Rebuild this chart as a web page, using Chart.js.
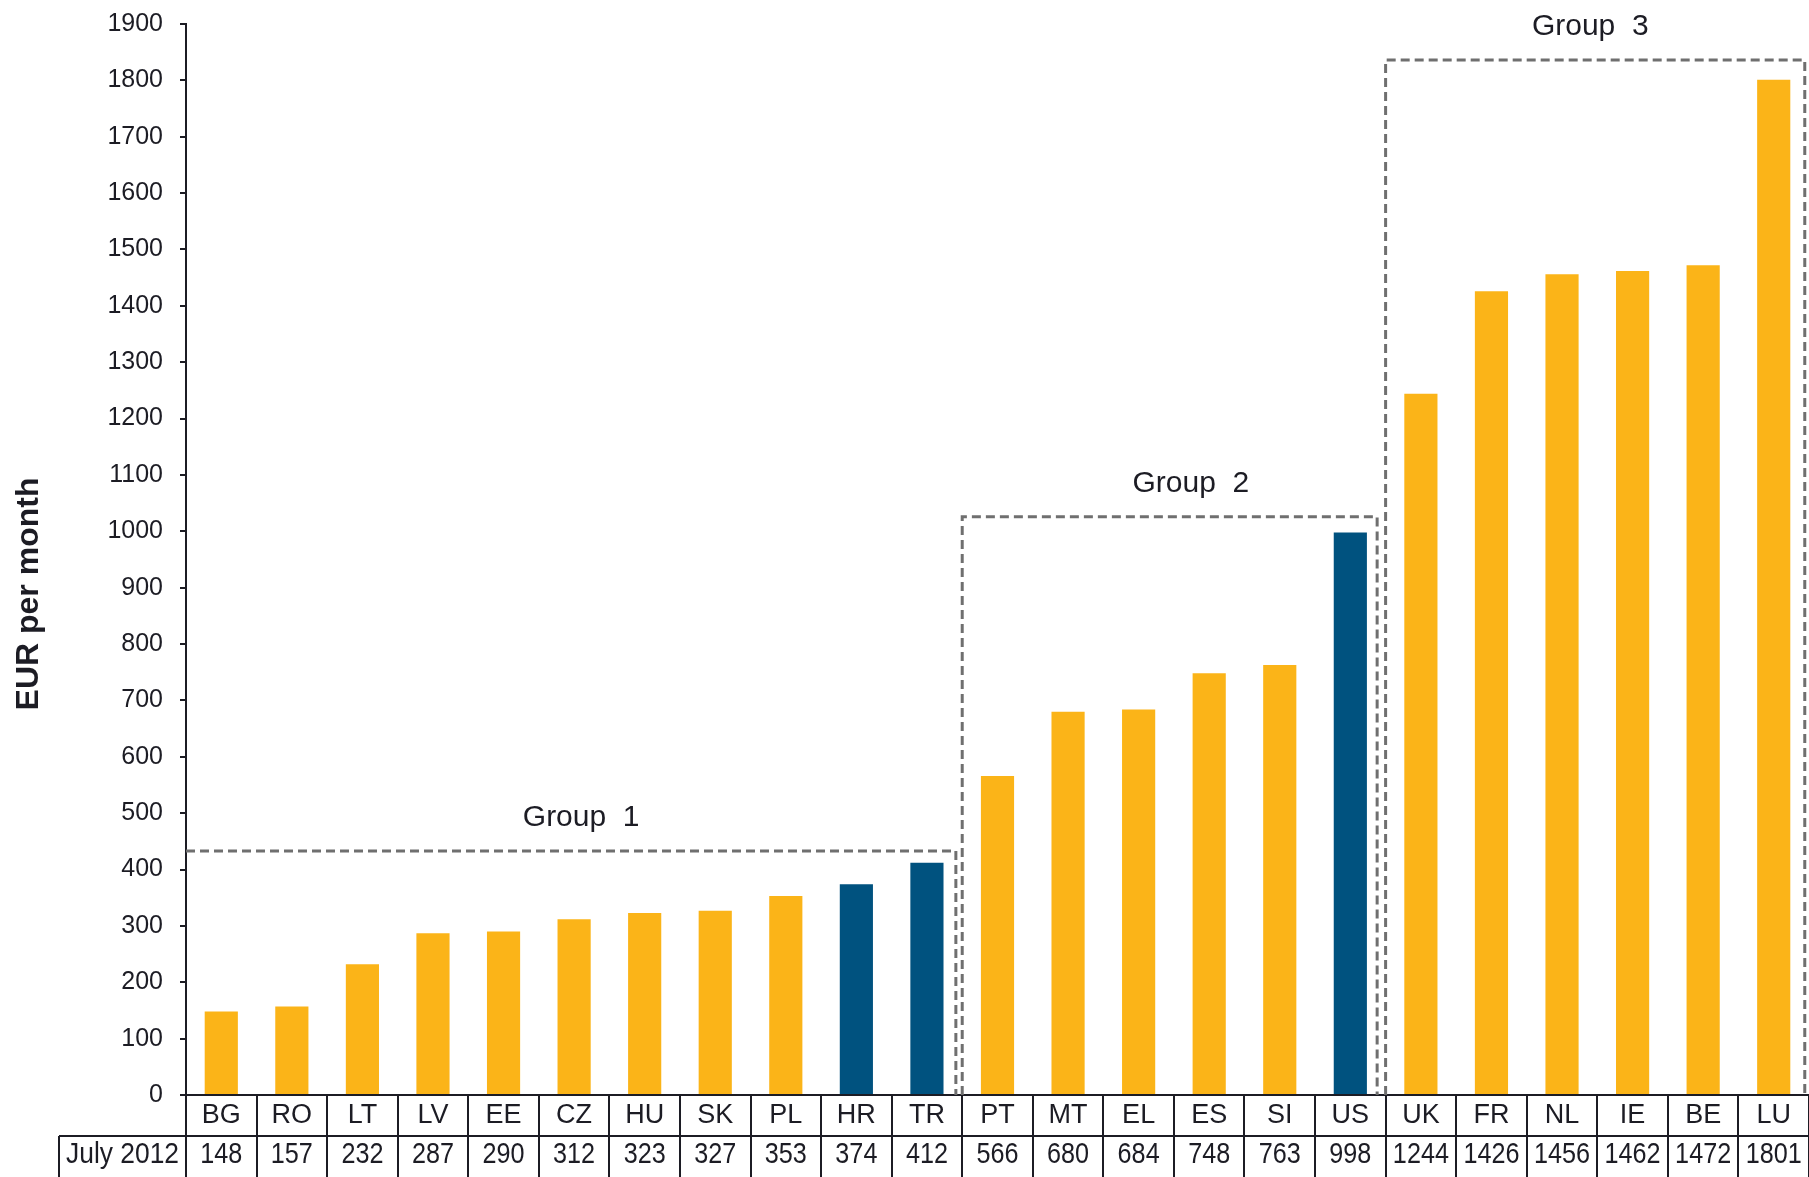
<!DOCTYPE html>
<html>
<head>
<meta charset="utf-8">
<script src="https://cdn.jsdelivr.net/npm/chart.js@4/dist/chart.umd.min.js"></script>
<style>
  html, body { margin: 0; padding: 0; background: #fff; }
  canvas { display: block; }
</style>
</head>
<body>
<canvas id="wageChart" width="1809" height="1177"></canvas>
<script>
// Minimum wages, EUR per month
const countries = ['BG', 'RO', 'LT', 'LV', 'EE', 'CZ', 'HU', 'SK', 'PL', 'HR', 'TR',
    'PT', 'MT', 'EL', 'ES', 'SI', 'US', 'UK', 'FR', 'NL', 'IE', 'BE', 'LU'];
const july2012 = [148, 157, 232, 287, 290, 312, 323, 327, 353, 374, 412,
    566, 680, 684, 748, 763, 998, 1244, 1426, 1456, 1462, 1472, 1801];
const highlighted = ['HR', 'TR', 'US'];
const rowLabel = 'July 2012';
const groupNames = ['Group  1', 'Group  2', 'Group  3'];

const ORANGE = '#FBB418';
const BLUE = '#00527F';
const INK = '#1c1c24';
const FONT = "'Liberation Sans', Arial, sans-serif";

// dashed group frames, in category index / value units
const groupFrames = [
    { left: null, right: 10.41, top: 433, labelAt: 5.1 },
    { left: 10.5, right: 16.38, top: 1026, labelAt: 13.74 },
    { left: 16.5, right: 22.44, top: 1836, labelAt: 19.4 }
];

const TABLE_H = 82;

const tablePlugin = {
    id: 'tablePlugin',
    afterDraw(chart) {
        const ctx = chart.ctx;
        const x = chart.scales.x;
        const y = chart.scales.y;
        const area = chart.chartArea;
        const rowTop = area.bottom;
        const rowMid = rowTop + 41;

        ctx.save();

        // data table lines below the axis
        ctx.strokeStyle = INK;
        ctx.lineWidth = 2;
        ctx.beginPath();
        ctx.moveTo(59, rowMid);
        ctx.lineTo(area.right, rowMid);
        ctx.moveTo(59, rowMid);
        ctx.lineTo(59, chart.height);
        ctx.stroke();

        ctx.fillStyle = INK;
        ctx.textAlign = 'center';
        ctx.textBaseline = 'middle';

        // country codes
        ctx.font = '27px ' + FONT;
        countries.forEach((c, i) => {
            ctx.fillText(c, x.getPixelForValue(i), rowTop + 21);
        });

        // values row, slightly condensed like the original table font
        ctx.font = '30px ' + FONT;
        const drawNarrow = (txt, cx, cy, k) => {
            ctx.save();
            ctx.translate(cx, cy);
            ctx.scale(k, 1);
            ctx.fillText(txt, 0, 0);
            ctx.restore();
        };
        july2012.forEach((v, i) => {
            drawNarrow(String(v), x.getPixelForValue(i), rowMid + 19, 0.84);
        });
        drawNarrow(rowLabel, (59 + area.left) / 2, rowMid + 19, 0.88);

        // dashed group frames
        ctx.strokeStyle = '#6f6f6f';
        ctx.lineWidth = 3;
        ctx.setLineDash([9, 5]);
        groupFrames.forEach(g => {
            const top = y.getPixelForValue(g.top);
            const r = x.getPixelForValue(g.right);
            ctx.beginPath();
            if (g.left === null) {
                ctx.moveTo(area.left, top);
            } else {
                const l = x.getPixelForValue(g.left);
                ctx.moveTo(l, area.bottom);
                ctx.lineTo(l, top);
            }
            ctx.lineTo(r, top);
            ctx.lineTo(r, area.bottom);
            ctx.stroke();
        });
        ctx.setLineDash([]);

        // group captions
        ctx.font = '30px ' + FONT;
        ctx.textBaseline = 'alphabetic';
        groupFrames.forEach((g, i) => {
            ctx.fillText(groupNames[i], x.getPixelForValue(g.labelAt), y.getPixelForValue(g.top) - 25);
        });

        // y axis title
        ctx.font = 'bold 32px ' + FONT;
        ctx.translate(38, 594);
        ctx.rotate(-Math.PI / 2);
        ctx.textAlign = 'center';
        ctx.fillText('EUR per month', 0, 0);

        ctx.restore();
    }
};

new Chart(document.getElementById('wageChart'), {
    type: 'bar',
    data: {
        labels: countries,
        datasets: [{
            label: rowLabel,
            data: july2012,
            backgroundColor: countries.map(c => highlighted.includes(c) ? BLUE : ORANGE),
            borderWidth: 0,
            barPercentage: 0.47,
            categoryPercentage: 1
        }]
    },
    options: {
        responsive: false,
        animation: false,
        layout: { padding: { top: 24, right: 0, bottom: 0, left: 0 } },
        plugins: {
            legend: { display: false },
            tooltip: { enabled: false }
        },
        scales: {
            x: {
                offset: true,
                grid: {
                    offset: true,
                    drawOnChartArea: false,
                    drawTicks: true,
                    tickLength: TABLE_H,
                    color: INK,
                    lineWidth: 2
                },
                border: { display: true, color: INK, width: 2 },
                ticks: { display: false },
                afterFit: s => { s.height = TABLE_H; }
            },
            y: {
                min: 0,
                max: 1900,
                grid: {
                    drawOnChartArea: false,
                    drawTicks: true,
                    tickLength: 6,
                    color: INK,
                    lineWidth: 2
                },
                border: { display: true, color: INK, width: 2 },
                ticks: {
                    stepSize: 100,
                    padding: 17,
                    color: INK,
                    font: { family: FONT, size: 25 },
                    callback: v => String(v)
                },
                afterFit: s => {
                    s.width = 186;
                    s.paddingTop = 0;
                    s.paddingBottom = 0;
                }
            }
        }
    },
    plugins: [tablePlugin]
});
</script>
</body>
</html>
